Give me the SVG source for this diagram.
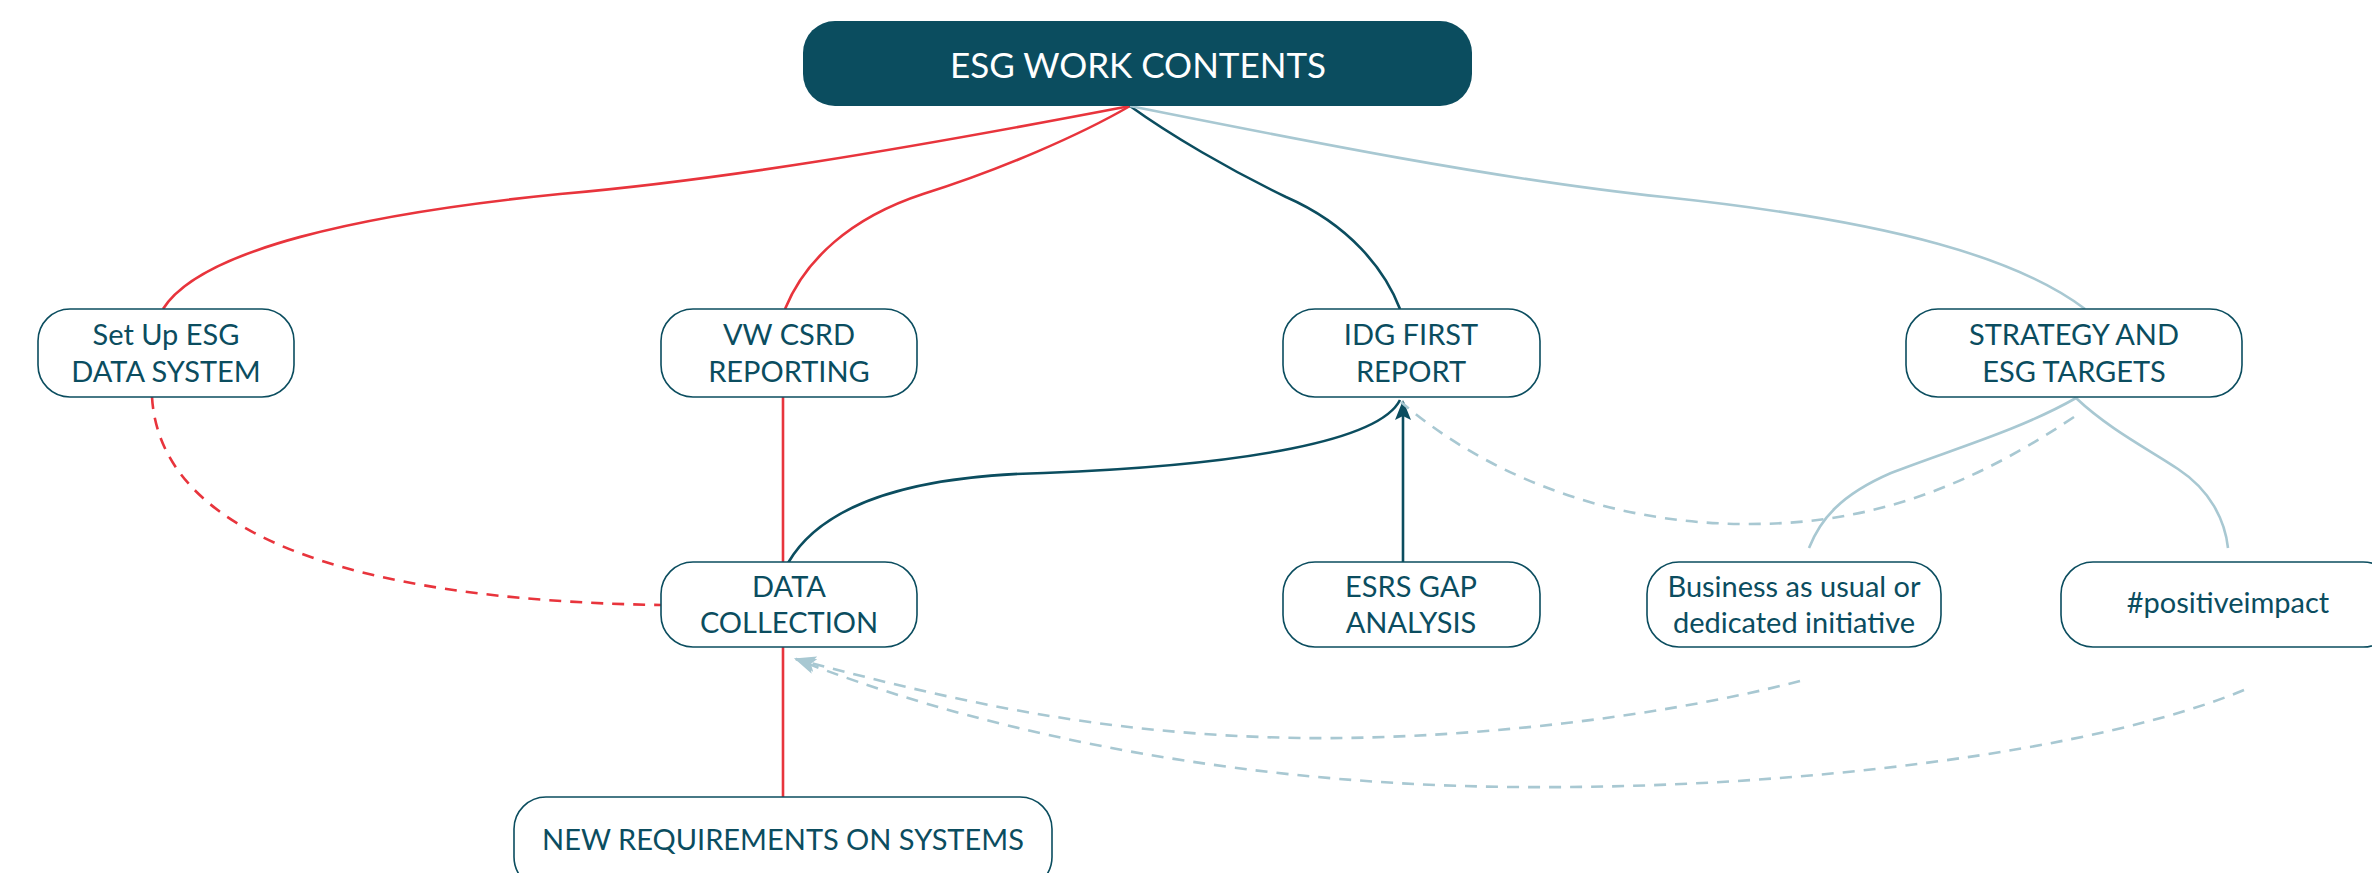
<svg xmlns="http://www.w3.org/2000/svg" width="2372" height="873" viewBox="0 0 2372 873">
<defs>
<style>
.node rect{fill:#ffffff;stroke:#0b4d5f;stroke-width:1.6}
.node text{font-family:Lato,"Noto Sans",sans-serif;font-size:29px;fill:#0b4d5f;text-anchor:middle}
.root rect{fill:#0b4d5f}
.root text{font-family:Lato,"Noto Sans",sans-serif;font-size:35px;fill:#ffffff;text-anchor:middle}
.c{fill:none;stroke-width:2.6}
.red{stroke:#e8343c}
.dark{stroke:#0b4d5f}
.light{stroke:#a8c8d2}
.dash{stroke-dasharray:12 9}
</style>
<marker id="arrDark" markerWidth="20" markerHeight="16" refX="18" refY="8" orient="auto" markerUnits="userSpaceOnUse" viewBox="0 0 20 16">
<path d="M0,0 L20,8 L0,16 L4,8 Z" fill="#0b4d5f"/>
</marker>
<marker id="arrLight" markerWidth="22" markerHeight="16" refX="20" refY="8" orient="auto" markerUnits="userSpaceOnUse" viewBox="0 0 22 16">
<path d="M0,0 L22,8 L0,16 L5,8 Z" fill="#a8c8d2"/>
</marker>
</defs>
<rect width="2372" height="873" fill="#ffffff"/>
<g id="connectors">
<path class="c red" d="M1130,106 C900,150 720,180 560,194 C360,214 200,250 163,309"/>
<path class="c red" d="M1130,106 C1080,135 1000,170 923,194 C850,218 805,260 785,309"/>
<path class="c dark" d="M1130,106 C1170,135 1230,170 1286,197 C1350,225 1385,270 1400,309"/>
<path class="c light" d="M1130,106 C1300,140 1500,180 1664,197 C1900,222 2020,260 2085,309"/>
<path class="c red dash" d="M152,397 C160,530 340,600 661,605"/>
<path class="c red" d="M783,397 L783,562"/>
<path class="c red" d="M783,647 L783,797"/>
<path class="c dark" d="M788,563 C830,490 950,475 1044,473 C1250,465 1380,440 1400,400"/>
<path class="c dark" d="M1403,562 L1403,402" marker-end="url(#arrDark)"/>
<path class="c light dash" d="M2074,417 C1950,500 1850,525 1743,524 C1600,523 1480,470 1401,402"/>
<path class="c light" d="M2076,398 C2020,430 1950,450 1891,473 C1840,495 1820,520 1809,548"/>
<path class="c light" d="M2076,398 C2110,430 2150,450 2178,469 C2210,490 2225,520 2228,548"/>
<path class="c light dash" d="M1800,681 C1650,720 1450,740 1300,738 C1100,735 950,700 796,659" marker-end="url(#arrLight)"/>
<path class="c light dash" d="M2244,690 C2100,750 1800,790 1513,787 C1200,784 950,720 796,659" marker-end="url(#arrLight)"/>
</g>
<g id="root" class="root">
<rect x="803" y="21" width="669" height="85" rx="32"/>
<text x="1138" y="78">ESG WORK CONTENTS</text>
</g>
<g id="setup" class="node">
<rect x="38" y="309" width="256" height="88" rx="32"/>
<text x="166" y="345">Set Up ESG</text>
<text x="166" y="382">DATA SYSTEM</text>
</g>
<g id="vwcsrd" class="node">
<rect x="661" y="309" width="256" height="88" rx="32"/>
<text x="789" y="345">VW CSRD</text>
<text x="789" y="382">REPORTING</text>
</g>
<g id="idg" class="node">
<rect x="1283" y="309" width="257" height="88" rx="32"/>
<text x="1411" y="345">IDG FIRST</text>
<text x="1411" y="382">REPORT</text>
</g>
<g id="strategy" class="node">
<rect x="1906" y="309" width="336" height="88" rx="32"/>
<text x="2074" y="345">STRATEGY AND</text>
<text x="2074" y="382">ESG TARGETS</text>
</g>
<g id="datacollection" class="node">
<rect x="661" y="562" width="256" height="85" rx="32"/>
<text x="789" y="597">DATA</text>
<text x="789" y="633">COLLECTION</text>
</g>
<g id="esrs" class="node">
<rect x="1283" y="562" width="257" height="85" rx="32"/>
<text x="1411" y="597">ESRS GAP</text>
<text x="1411" y="633">ANALYSIS</text>
</g>
<g id="bau" class="node">
<rect x="1647" y="562" width="294" height="85" rx="32"/>
<text x="1794" y="597">Business as usual or</text>
<text x="1794" y="633">dedicated initiative</text>
</g>
<g id="positive" class="node">
<rect x="2061" y="562" width="334" height="85" rx="32"/>
<text x="2228" y="613">#positiveimpact</text>
</g>
<g id="newreq" class="node">
<rect x="514" y="797" width="538" height="92" rx="32"/>
<text x="783" y="850">NEW REQUIREMENTS ON SYSTEMS</text>
</g>
</svg>
